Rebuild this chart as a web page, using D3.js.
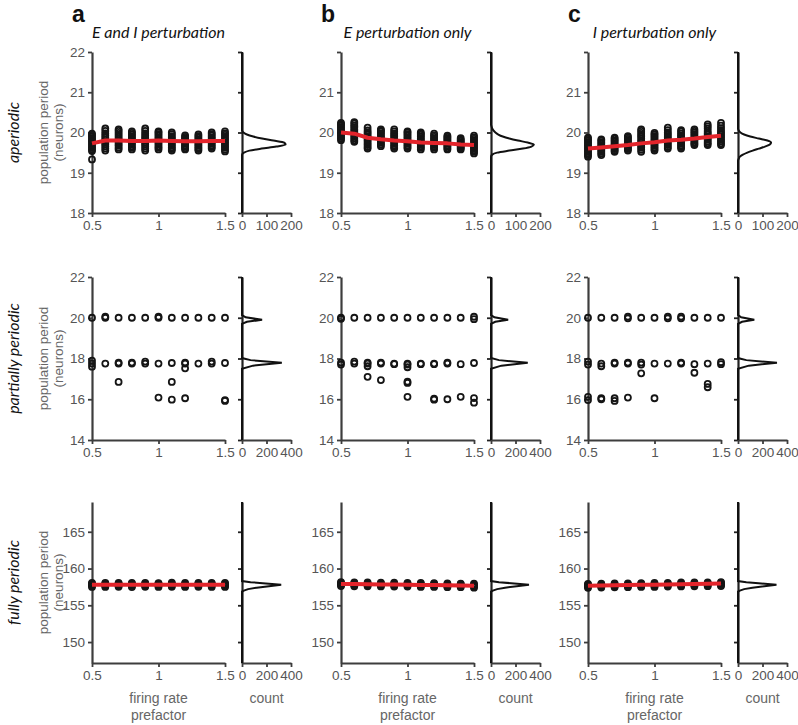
<!DOCTYPE html>
<html><head><meta charset="utf-8">
<script src="https://cdn.jsdelivr.net/npm/d3@7"></script>
<style>
body{margin:0;background:#fff;}
svg{display:block;}
</style></head>
<body>
<svg id="chart" width="798" height="725"></svg>
<script>
// ---------------- DATA ----------------
const panelLetters = ["a", "b", "c"];
const panelTitles = ["E and I perturbation", "E perturbation only", "I perturbation only"];
const rowLabels = ["aperiodic", "partially periodic", "fully periodic"];
const xValues = [0.5, 0.6, 0.7, 0.8, 0.9, 1.0, 1.1, 1.2, 1.3, 1.4, 1.5];
const xTicks = [0.5, 1, 1.5];
const xTickLabels = ["0.5", "1", "1.5"];

// row 1: aperiodic
const yTicksAper = [18, 19, 20, 21, 22];
const yDomainAper = [18, 22];
const histTicksAper = [0, 100, 200];
const aperPointsA = [
  [19.54,19.58,19.62,19.66,19.7,19.74,19.78,19.82,19.86,19.9,19.94,19.97,19.33],
  [19.55,19.6,19.65,19.7,19.74,19.78,19.83,19.88,19.93,19.98,20.04,20.1],
  [19.58,19.62,19.67,19.71,19.76,19.8,19.84,19.89,19.94,19.99,20.04,20.08],
  [19.58,19.62,19.66,19.71,19.75,19.79,19.83,19.87,19.91,19.95,19.99,20.03],
  [19.55,19.6,19.65,19.7,19.74,19.79,19.84,19.88,19.93,19.98,20.04,20.1],
  [19.58,19.62,19.66,19.71,19.75,19.8,19.84,19.88,19.92,19.96,20.0,20.03],
  [19.55,19.59,19.63,19.67,19.71,19.75,19.79,19.83,19.87,19.91,19.96,20.0],
  [19.58,19.61,19.65,19.68,19.72,19.75,19.79,19.82,19.86,19.89,19.93],
  [19.55,19.59,19.63,19.67,19.71,19.75,19.79,19.83,19.87,19.91,19.95],
  [19.6,19.64,19.68,19.72,19.76,19.8,19.84,19.88,19.92,19.96,20.0],
  [19.53,19.57,19.62,19.66,19.71,19.75,19.8,19.84,19.89,19.94,19.98,20.03]
];
const aperMeanA = [19.73, 19.8, 19.8, 19.79, 19.79, 19.8, 19.79, 19.78, 19.78, 19.79, 19.79];
const aperPointsB = [
  [19.81,19.85,19.89,19.93,19.97,20.01,20.05,20.09,20.13,20.17,20.21,20.24],
  [19.77,19.81,19.86,19.9,19.95,19.99,20.04,20.08,20.13,20.17,20.22,20.26],
  [19.6,19.64,19.69,19.73,19.78,19.82,19.87,19.91,19.96,20.0,20.05,20.12],
  [19.66,19.7,19.74,19.78,19.82,19.86,19.9,19.94,19.98,20.02,20.05,20.08],
  [19.6,19.64,19.68,19.72,19.77,19.81,19.85,19.9,19.94,19.98,20.03,20.08],
  [19.6,19.64,19.68,19.72,19.76,19.8,19.84,19.88,19.92,19.96,20.0,20.03],
  [19.58,19.62,19.66,19.7,19.74,19.78,19.82,19.86,19.9,19.94,19.97,20.0],
  [19.58,19.62,19.65,19.69,19.73,19.77,19.81,19.85,19.89,19.93,19.97],
  [19.58,19.61,19.65,19.68,19.72,19.75,19.79,19.82,19.86,19.89,19.92],
  [19.58,19.61,19.64,19.67,19.7,19.73,19.76,19.79,19.82,19.86],
  [19.48,19.52,19.56,19.6,19.64,19.68,19.72,19.76,19.8,19.84,19.88,19.92]
];
const aperMeanB = [20.0, 19.97, 19.87, 19.83, 19.8, 19.78, 19.75, 19.74, 19.73, 19.7, 19.69];
const aperPointsC = [
  [19.4,19.44,19.48,19.52,19.56,19.6,19.64,19.68,19.72,19.76,19.8,19.84,19.87],
  [19.44,19.48,19.52,19.56,19.6,19.64,19.68,19.72,19.76,19.8,19.83],
  [19.52,19.55,19.59,19.62,19.66,19.7,19.73,19.77,19.8,19.84,19.87],
  [19.55,19.59,19.62,19.66,19.7,19.73,19.77,19.81,19.84,19.88,19.91],
  [19.52,19.57,19.62,19.66,19.71,19.76,19.8,19.85,19.9,19.94,19.99,20.04,20.08],
  [19.55,19.59,19.63,19.67,19.71,19.75,19.79,19.83,19.87,19.91,19.95,19.99],
  [19.6,19.64,19.69,19.73,19.78,19.82,19.87,19.91,19.96,20.0,20.06,20.12],
  [19.6,19.64,19.68,19.72,19.76,19.8,19.85,19.89,19.93,19.97,20.02,20.06],
  [19.69,19.72,19.76,19.8,19.84,19.88,19.92,19.96,20.0,20.04,20.08],
  [19.69,19.73,19.77,19.82,19.86,19.9,19.95,19.99,20.04,20.1,20.15,20.2],
  [19.69,19.73,19.78,19.82,19.87,19.91,19.96,20.0,20.05,20.11,20.17,20.24]
];
const aperMeanC = [19.6, 19.63, 19.66, 19.69, 19.73, 19.76, 19.8, 19.82, 19.85, 19.89, 19.92];
const aperHistBinsA = [18,19.45,19.5,19.55,19.6,19.65,19.7,19.75,19.8,19.85,19.9,19.95,20.0,20.05,22];
const aperHistCountsA = [0,0,8,30,80,140,178,172,128,82,46,20,6,0,0];
const aperHistBinsB = [18,19.4,19.45,19.5,19.55,19.6,19.65,19.7,19.75,19.8,19.85,19.9,19.95,20.0,20.05,20.1,20.15,20.2,22];
const aperHistCountsB = [0,0,5,25,75,130,165,175,150,110,75,48,30,18,10,5,2,0,0];
const aperHistBinsC = [18,19.3,19.35,19.4,19.45,19.5,19.55,19.6,19.65,19.7,19.75,19.8,19.85,19.9,19.95,20.0,20.05,20.1,22];
const aperHistCountsC = [0,0,3,8,20,38,60,85,110,130,135,120,85,50,25,10,3,0,0];

// row 2: partially periodic
const yTicksPart = [14, 16, 18, 20, 22];
const yDomainPart = [14, 22];
const histTicksPart = [0, 200, 400];
const partPointsA = [
  [20.0,17.9,17.75,17.6],[20.0,20.05,17.75],[20.0,17.75,17.8,16.85],[20.0,17.75,17.8],
  [20.0,17.75,17.85],[20.0,20.05,17.75,16.08],[20.0,17.78,16.85,15.98],
  [20.0,17.8,17.75,17.52,16.05],[20.0,17.75],[20.0,17.75,17.85],[20.0,17.78,15.96,15.92]
];
const partPointsB = [
  [20.0,19.95,17.8,17.7],[20.0,17.75,17.85],[20.0,17.8,17.75,17.62,17.1],[20.0,17.8,17.75,16.94],
  [20.0,17.75,17.72],[20.0,17.75,17.7,17.57,16.86,16.8,16.12],[20.0,17.75,17.72],
  [20.0,17.75,17.72,16.03,15.98],[20.0,17.8,17.75,16.0],[20.0,17.72,16.12],[20.05,19.93,17.78,16.06,15.83]
];
const partPointsC = [
  [20.0,17.85,17.7,16.12,15.96],[20.0,17.75,17.62,16.05,16.0],[20.0,17.8,17.75,16.05,15.92],
  [20.05,19.97,17.8,17.75,16.08],[20.0,17.8,17.7,17.27],[20.0,17.75,16.05],[20.05,19.97,17.75],
  [20.05,19.97,17.8,17.75],[20.0,17.72,17.3],[20.0,17.75,16.75,16.59],[20.0,17.82,17.72]
];
const partHistBinsA = [14,17.5,17.65,17.79,17.92,18.02,19.7,19.8,19.9,20.02,20.13,22];
const partHistCountsA = [0,0,90,325,70,0,0,40,164,30,0,0];
const partHistBinsB = [14,17.5,17.65,17.79,17.92,18.02,19.7,19.8,19.9,20.02,20.13,22];
const partHistCountsB = [0,0,85,300,65,0,0,35,140,28,0,0];
const partHistBinsC = [14,17.5,17.65,17.79,17.92,18.02,19.7,19.8,19.9,20.02,20.13,22];
const partHistCountsC = [0,0,88,318,68,0,0,33,133,26,0,0];

// row 3: fully periodic
const yTicksFull = [150, 155, 160, 165];
const yDomainFull = [147.15, 169.05];
const histTicksFull = [0, 200, 400];
const fullPointsA = [
  [157.5,157.65,157.8,157.95,158.05],[157.5,157.65,157.8,157.95,158.05],[157.52,157.66,157.8,157.94,158.06],
  [157.48,157.63,157.78,157.93,158.05],[157.52,157.66,157.8,157.94,158.04],[157.5,157.65,157.8,157.95,158.02],
  [157.52,157.66,157.8,157.95,158.08],[157.5,157.64,157.78,157.92,158.03],[157.52,157.66,157.8,157.94,158.05],
  [157.5,157.65,157.8,157.95,158.06],[157.5,157.64,157.78,157.93,158.05]
];
const fullMeanA = [157.8,157.8,157.8,157.8,157.8,157.8,157.8,157.8,157.8,157.8,157.8];
const fullPointsB = [
  [157.62,157.76,157.9,158.04,158.15],[157.58,157.72,157.87,158.0,158.12],[157.58,157.72,157.86,157.99,158.1],
  [157.56,157.7,157.84,157.97,158.08],[157.55,157.69,157.83,157.96,158.07],[157.54,157.68,157.82,157.95,158.05],
  [157.5,157.64,157.78,157.92,158.03],[157.5,157.64,157.78,157.91,158.02],[157.46,157.6,157.74,157.87,157.98],
  [157.46,157.6,157.73,157.86,157.96],[157.4,157.54,157.68,157.82,157.93]
];
const fullMeanB = [157.9,157.88,157.86,157.84,157.82,157.8,157.77,157.75,157.72,157.7,157.67];
const fullPointsC = [
  [157.38,157.52,157.66,157.8,157.9],[157.42,157.56,157.7,157.83,157.93],[157.44,157.58,157.72,157.86,157.98],
  [157.46,157.6,157.74,157.87,157.98],[157.5,157.64,157.77,157.9,158.02],[157.5,157.64,157.78,157.92,158.04],
  [157.54,157.68,157.82,157.95,158.06],[157.56,157.7,157.84,157.98,158.1],[157.58,157.72,157.86,158.0,158.1],
  [157.6,157.74,157.88,158.02,158.12],[157.62,157.76,157.9,158.04,158.16]
];
const fullMeanC = [157.66,157.69,157.72,157.75,157.78,157.8,157.83,157.86,157.89,157.92,157.95];
const fullHistBins = [147.15,156.85,157.0,157.2,157.4,157.6,157.8,158.0,158.15,158.3,169.05];
const fullHistCountsA = [0,0,15,50,120,220,320,170,70,0,0];
const fullHistCountsB = [0,0,15,50,115,210,310,165,65,0,0];
const fullHistCountsC = [0,0,15,50,118,215,314,168,68,0,0];

// ---------------- LAYOUT ----------------
const colLeft = [92, 341, 588];
const rowTop = [52, 277, 502];
const rowH = [161, 163, 161];
const mainW = 133;
const histOff = 150;
const histW = 49;
const axisColor = "#3d3d3d";
const tickTextColor = "#555";
const labelColor = "#666";
const numFont = "'Liberation Sans', Arial, sans-serif";
const italFont = "Lato, 'Noto Sans', sans-serif";

const rows = [
  {domain: yDomainAper, ticks: yTicksAper, hticks: histTicksAper, hmax: 200,
   points: [aperPointsA, aperPointsB, aperPointsC], means: [aperMeanA, aperMeanB, aperMeanC],
   hb: [aperHistBinsA, aperHistBinsB, aperHistBinsC], hc: [aperHistCountsA, aperHistCountsB, aperHistCountsC], smooth: true},
  {domain: yDomainPart, ticks: yTicksPart, hticks: histTicksPart, hmax: 400,
   points: [partPointsA, partPointsB, partPointsC], means: null,
   hb: [partHistBinsA, partHistBinsB, partHistBinsC], hc: [partHistCountsA, partHistCountsB, partHistCountsC], smooth: false},
  {domain: yDomainFull, ticks: yTicksFull, hticks: histTicksFull, hmax: 400,
   points: [fullPointsA, fullPointsB, fullPointsC], means: [fullMeanA, fullMeanB, fullMeanC],
   hb: [fullHistBins, fullHistBins, fullHistBins], hc: [fullHistCountsA, fullHistCountsB, fullHistCountsC], smooth: false}
];

const svg = d3.select("#chart");

function styleAxis(g, color) {
  g.select(".domain").attr("stroke", color).attr("stroke-width", 2.2);
  g.selectAll(".tick line").attr("stroke", color).attr("stroke-width", 1.8);
  g.selectAll(".tick text").attr("fill", tickTextColor)
    .style("font-family", numFont).style("font-size", "13.5px");
}

rows.forEach((row, ri) => {
  const top = rowTop[ri], h = rowH[ri];
  const y = d3.scaleLinear().domain(row.domain).range([top + h, top]);
  for (let ci = 0; ci < 3; ci++) {
    const left = colLeft[ci];
    const x = d3.scaleLinear().domain([0.5, 1.5]).range([left, left + mainW]);
    const g = svg.append("g");

    // y axis
    const yAx = d3.axisLeft(y).tickValues(row.ticks).tickSize(4).tickSizeOuter(0).tickPadding(3)
      .tickFormat(d => (ri === 0 && ci > 0 && d === 22) ? "" : d3.format("d")(d));
    const gy = g.append("g").attr("transform", `translate(${left},0)`).call(yAx);
    styleAxis(gy, axisColor);

    // x axis
    const xAx = d3.axisBottom(x).tickValues(xTicks).tickSize(4).tickSizeOuter(0).tickPadding(3)
      .tickFormat((d, i) => xTickLabels[i]);
    const gx = g.append("g").attr("transform", `translate(0,${top + h})`).call(xAx);
    styleAxis(gx, axisColor);

    // points
    const pts = [];
    row.points[ci].forEach((col, xi) => col.forEach(v => pts.push([xValues[xi], v])));
    g.append("g").selectAll("circle").data(pts).join("circle")
      .attr("cx", d => x(d[0])).attr("cy", d => y(d[1])).attr("r", 3.0)
      .attr("fill", "none").attr("stroke", "#151515").attr("stroke-width", 1.8);

    // mean line
    if (row.means) {
      g.append("path").datum(row.means[ci])
        .attr("d", d3.line().x((d, i) => x(xValues[i])).y(d => y(d)))
        .attr("fill", "none").attr("stroke", "#e3242b").attr("stroke-width", 4)
        .attr("stroke-linejoin", "round");
    }

    // histogram
    const hl = left + histOff;
    const hx = d3.scaleLinear().domain([0, row.hmax]).range([hl, hl + histW]);
    const hyAx = d3.axisLeft(y).tickValues(row.ticks).tickSize(4).tickSizeOuter(0).tickFormat("");
    const ghy = g.append("g").attr("transform", `translate(${hl},0)`).call(hyAx);
    styleAxis(ghy, "#222");
    const hxAx = d3.axisBottom(hx).tickValues(row.hticks).tickSize(4).tickSizeOuter(0).tickPadding(3)
      .tickFormat(d3.format("d"));
    const ghx = g.append("g").attr("transform", `translate(0,${top + h})`).call(hxAx);
    styleAxis(ghx, axisColor);
    const hb = row.hb[ci], hc = row.hc[ci];
    g.append("path").datum(hb.map((b, i) => [b, hc[i]]))
      .attr("d", d3.line().x(d => hx(d[1])).y(d => y(d[0]))
        .curve(row.smooth ? d3.curveMonotoneY : d3.curveLinear))
      .attr("fill", "none").attr("stroke", "#111").attr("stroke-width", 2);

    // top row titles
    if (ri === 0) {
      svg.append("text").attr("x", left - 20).attr("y", 22)
        .style("font-family", numFont).style("font-weight", "bold").style("font-size", "23px")
        .attr("fill", "#111").text(panelLetters[ci]);
      svg.append("text").attr("x", left + mainW / 2).attr("y", 38).attr("text-anchor", "middle")
        .style("font-family", italFont).style("font-style", "italic").style("font-size", "16px")
        .attr("fill", "#111").text(panelTitles[ci]);
    }
    // bottom row x labels
    if (ri === 2) {
      const xl = svg.append("text").attr("text-anchor", "middle")
        .style("font-family", numFont).style("font-size", "14px").attr("fill", labelColor);
      xl.append("tspan").attr("x", left + mainW / 2).attr("y", 703).text("firing rate");
      xl.append("tspan").attr("x", left + mainW / 2).attr("y", 720).text("prefactor");
      svg.append("text").attr("x", hl + histW / 2).attr("y", 703).attr("text-anchor", "middle")
        .style("font-family", numFont).style("font-size", "14px").attr("fill", labelColor).text("count");
    }
  }
  // row label
  const cy = top + h / 2;
  svg.append("text").attr("transform", `translate(19,${cy}) rotate(-90)`).attr("text-anchor", "middle")
    .style("font-family", italFont).style("font-style", "italic").style("font-size", "16px")
    .attr("fill", "#111").text(rowLabels[ri]);
  // y axis label
  const yl = svg.append("text").attr("transform", `translate(0,${cy}) rotate(-90)`).attr("text-anchor", "middle")
    .style("font-family", numFont).style("font-size", "13.5px").attr("fill", labelColor);
  yl.append("tspan").attr("x", 0).attr("y", 48).text("population period");
  yl.append("tspan").attr("x", 0).attr("y", 63).text("(neurons)");
});
</script>
</body></html>
